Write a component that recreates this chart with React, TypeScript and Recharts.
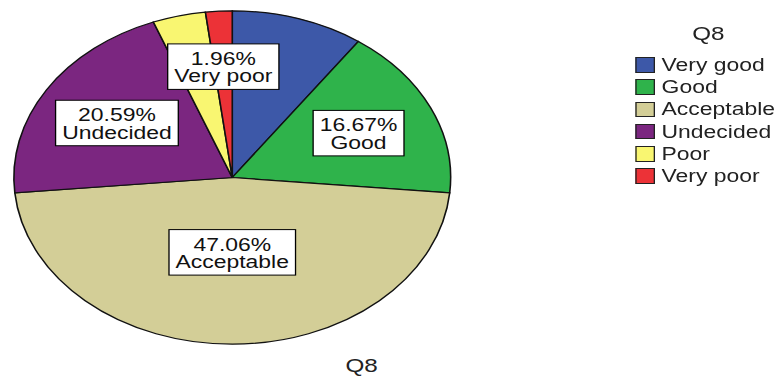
import { PieChart, Pie, Cell, Legend } from 'recharts'

// chart values
const categories = ['Very good', 'Good', 'Acceptable', 'Undecided', 'Poor', 'Very poor']
const counts = [10, 17, 48, 21, 4, 2]
const colors = ['#3D58A8', '#2FB34B', '#D3CE97', '#7B2680', '#F9F671', '#EC3237']
const labeledCategories = ['Good', 'Acceptable', 'Undecided', 'Very poor']
const variableName = 'Q8'

const data = categories.map((name, i) => ({ name, value: counts[i] }))

// the source image is stretched horizontally, so draw narrow and scale
const STRETCH = 1.31
const W = 595
const H = 379
const FONT = '"Liberation Sans", Arial, sans-serif'
const LABEL_SIZE = 17.5

let ctx: CanvasRenderingContext2D | null = null
function textWidth(s: string) {
  if (!ctx) ctx = document.createElement('canvas').getContext('2d')
  if (!ctx) return s.length * LABEL_SIZE * 0.55
  ctx.font = `${LABEL_SIZE}px ${FONT}`
  return ctx.measureText(s).width
}

const RADIAN = Math.PI / 180

function renderLabel(props: any) {
  const { cx, cy, midAngle, outerRadius, percent, name } = props
  if (!labeledCategories.includes(name)) return null
  // place the box at the centroid of the slice
  const theta = percent * 2 * Math.PI
  const r = (4 * outerRadius * Math.sin(theta / 2)) / (3 * theta)
  const x = cx + r * Math.cos(-midAngle * RADIAN)
  const y = cy + r * Math.sin(-midAngle * RADIAN)
  const line1 = `${(percent * 100).toFixed(2)}%`
  const w = Math.max(textWidth(line1), textWidth(name)) + 10
  const h = 45.5
  const top = y - h / 2
  return (
    <g>
      <rect x={x - w / 2} y={top} width={w} height={h} fill="#fff" stroke="#000" strokeWidth={1} />
      <text x={x} y={top + 21} textAnchor="middle" fontFamily={FONT} fontSize={LABEL_SIZE} fill="#111">
        {line1}
      </text>
      <text x={x} y={top + 38.5} textAnchor="middle" fontFamily={FONT} fontSize={LABEL_SIZE} fill="#111">
        {name}
      </text>
    </g>
  )
}

function renderLegend() {
  return (
    <div style={{ position: 'relative', width: 140, height: 200, fontFamily: FONT, color: '#222' }}>
      <div style={{ position: 'absolute', left: 0, top: 4.2, width: 141.4, textAlign: 'center', fontSize: 18.5, lineHeight: '20px' }}>
        {variableName}
      </div>
      {categories.map((c, i) => (
        <div
          key={c}
          style={{
            position: 'absolute',
            left: 14.5,
            top: 33.9 + i * 22.2,
            height: 22.2,
            display: 'flex',
            alignItems: 'center',
            fontSize: LABEL_SIZE,
            lineHeight: '22.2px',
            whiteSpace: 'nowrap',
          }}
        >
          <span style={{ display: 'inline-block', width: 13.5, height: 13.5, background: colors[i], border: '1px solid #222', marginRight: 5 }} />
          {c}
        </div>
      ))}
    </div>
  )
}

export default function App() {
  return (
    <div style={{ position: 'absolute', left: 0, top: 0, width: W, height: H, transform: `scaleX(${STRETCH})`, transformOrigin: '0 0', background: '#fff' }}>
      <PieChart width={W} height={H} margin={{ top: 0, right: 0, bottom: 0, left: 0 }}>
        <Pie
          data={data}
          dataKey="value"
          nameKey="name"
          cx={177.3}
          cy={177.5}
          outerRadius={166.7}
          startAngle={90}
          endAngle={-270}
          stroke="#111"
          strokeWidth={1.2}
          label={renderLabel}
          labelLine={false}
          isAnimationActive={false}
        >
          {data.map((d, i) => (
            <Cell key={d.name} fill={colors[i]} />
          ))}
        </Pie>
        <Legend content={renderLegend} wrapperStyle={{ position: 'absolute', left: 470, top: 20, width: 140, height: 200 }} />
      </PieChart>
      <div style={{ position: 'absolute', left: 236, top: 356, width: 80, textAlign: 'center', fontFamily: FONT, fontSize: 18.5, lineHeight: '20px', color: '#222' }}>
        {variableName}
      </div>
    </div>
  )
}
